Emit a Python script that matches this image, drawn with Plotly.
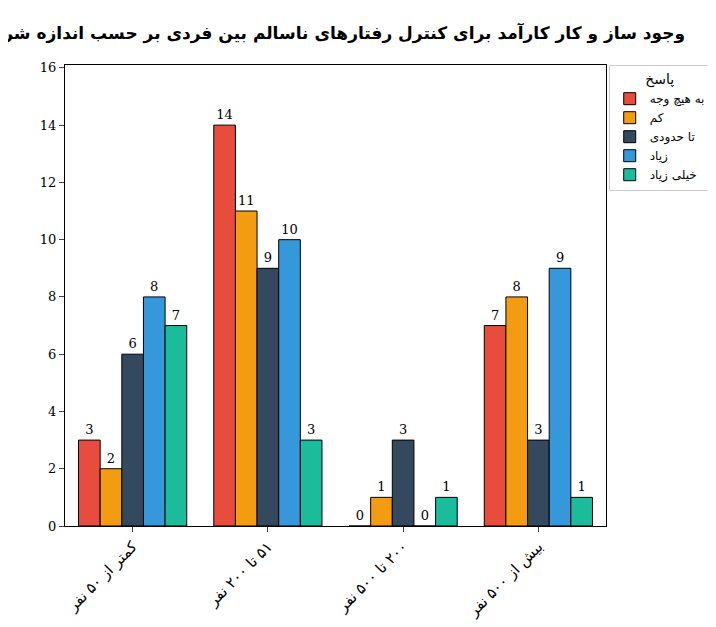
import plotly.graph_objects as go

RLM = "\u200f"
categories = ["کمتر از ۵۰ نفر", "۵۱ تا ۲۰۰ نفر", "۲۰۰ تا ۵۰۰ نفر", "بیش از ۵۰۰ نفر"]
responses = ["به هیچ وجه", "کم", "تا حدودی", "زیاد", "خیلی زیاد"]
values = {
    "به هیچ وجه": [3, 14, 0, 7],
    "کم": [2, 11, 1, 8],
    "تا حدودی": [6, 9, 3, 3],
    "زیاد": [8, 10, 0, 9],
    "خیلی زیاد": [7, 3, 1, 1],
}
colors = ["#e74c3c", "#f39c12", "#34495e", "#3498db", "#1abc9c"]

xlabels = [RLM + c + RLM for c in categories]

fig = go.Figure()
for name, col in zip(responses, colors):
    fig.add_trace(go.Bar(
        x=xlabels, y=values[name], name=name,
        marker=dict(color=col, line=dict(color="black", width=1)),
        text=values[name], textposition="outside",
        textfont=dict(size=13, color="black"), cliponaxis=False,
    ))

fig.update_layout(
    width=716, height=627,
    font=dict(family="DejaVu Serif, DejaVu Sans", size=13, color="black"),
    title=dict(text="<b>وجود ساز و کار کارآمد برای کنترل رفتارهای ناسالم بین فردی بر حسب اندازه شرکت</b>",
               x=0.45, xanchor="center", y=0.97, font=dict(size=17)),
    barmode="group", bargap=0.2, bargroupgap=0,
    plot_bgcolor="white", paper_bgcolor="white",
    margin=dict(l=57, r=118, t=57, b=109),
    legend=dict(title=dict(text="پاسخ", side="top center"), x=1.005, y=1, xanchor="left", yanchor="top",
                bordercolor="#cccccc", borderwidth=1, font=dict(size=12)),
    showlegend=True,
)
fig.update_xaxes(showline=True, linecolor="black", mirror=True, ticks="outside",
                 tickangle=-45, tickfont=dict(size=15))
fig.update_yaxes(range=[0, 16.1], dtick=2, showline=True, linecolor="black", mirror=True,
                 ticks="outside", showgrid=False, zeroline=False)

fig.write_html("out.html")
